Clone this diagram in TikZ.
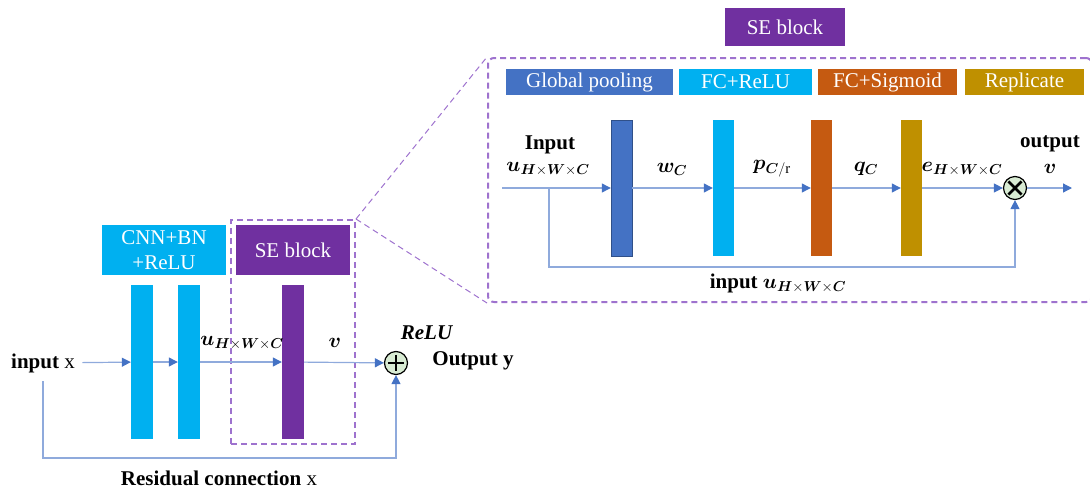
\documentclass[tikz,border=0pt]{standalone}
\usepackage{bm}
\usepackage{fontspec}
\setmainfont{Liberation Serif}
\usetikzlibrary{arrows.meta,positioning}
\definecolor{cyanbar}{HTML}{00B0F0}
\definecolor{sepurple}{HTML}{7030A0}
\definecolor{poolblue}{HTML}{4472C4}
\definecolor{sigorange}{HTML}{C55A11}
\definecolor{repgold}{HTML}{BF9000}
\definecolor{lnblue}{HTML}{8FAADC}
\definecolor{tipblue}{HTML}{4472C4}
\definecolor{dashpurple}{HTML}{9E72CE}
\definecolor{opgreen}{HTML}{D8EBD3}
\newcommand{\hwc}{\bm{H}\mathord{\times}\bm{W}\mathord{\times}\bm{C}}

\begin{document}
\begin{tikzpicture}[x=1pt, y=-1pt, font=\fontsize{21}{25}\selectfont,
  >={Triangle[length=9pt, width=9pt, color=tipblue]},
  ln/.style={draw=lnblue, line width=1.2pt},
  hd/.style={fill=#1, text=white, inner sep=0pt, align=center},
  bar/.style={fill=#1, inner sep=0pt},
  frame/.style={draw=dashpurple, line width=2pt, dash pattern=on 6pt off 4pt, inner sep=0pt},
  diag/.style={draw=dashpurple, line width=1pt, dash pattern=on 6pt off 4pt},
  op/.style={circle, draw=black, line width=1.2pt, fill=opgreen, minimum size=23pt, inner sep=0pt},
  sym/.style={line width=2.8pt}]
  \useasboundingbox (0,0) rectangle (1090,488);

  % residual block
  \node[hd=cyanbar, minimum width=124pt, minimum height=50pt] (cnnhd) at (164,250) {CNN+BN\\+ReLU};
  \node[hd=sepurple, minimum width=114pt, minimum height=50pt] (sehdl) at (293,250) {SE block};
  \node[bar=cyanbar, minimum width=22pt, minimum height=154pt] (cnn1) at (142,362) {};
  \node[bar=cyanbar, minimum width=22pt, minimum height=154pt] (cnn2) at (189,362) {};
  \node[bar=sepurple, minimum width=22pt, minimum height=154pt] (sel) at (293,362) {};
  \node[frame, minimum width=124pt, minimum height=224pt] (framel) at (293,332) {};
  \node[op] (plus) at (396,363) {};
  \draw[sym] ([yshift=-4pt]plus.north) -- ([yshift=4pt]plus.south);
  \draw[sym] ([xshift=4pt]plus.west) -- ([xshift=-4pt]plus.east);
  \node (inx) at (43,363) {\textbf{input} x};
  \node (resx) at (219,478) {\textbf{Residual connection} x};
  \node (relu) at (427,333) {\textbf{\textit{ReLU}}};
  \node (outy) at (473,361) {\textbf{Output y}};
  \node (ulab) at (242,343) {$\bm{u}_{\hwc}$};
  \node (vlab) at (335,343) {$\bm{v}$};
  \coordinate (rescorner) at (43,458);

  \draw[ln,->,shorten <=4pt] (inx) -- (cnn1);
  \foreach \a/\b in {cnn1/cnn2,cnn2/sel,sel/plus} \draw[ln,->] (\a) -- (\b);
  \draw[ln,->,shorten <=5pt] (inx.south) -- (rescorner) -| (plus);

  % SE block detail
  \node[hd=sepurple, minimum width=120pt, minimum height=38pt] (setitle) at (785,27) {SE block};
  \node[frame, rounded corners=6pt, minimum width=604pt, minimum height=244pt] (framer) at (790,180) {};
  \node[hd=poolblue, minimum width=167pt, minimum height=26pt] (gphd) at (589.5,82) {Global pooling};
  \node[hd=cyanbar, minimum width=133pt, minimum height=26pt] (fcrhd) at (745.5,82) {FC+ReLU};
  \node[hd=sigorange, minimum width=139pt, minimum height=26pt] (fcshd) at (887.5,82) {FC+Sigmoid};
  \node[hd=repgold, minimum width=119pt, minimum height=26pt] (rephd) at (1024.5,82) {Replicate};
  \node[bar=poolblue, draw=poolblue!70!black, minimum width=21pt, minimum height=136pt] (gpbar) at (621.5,188) {};
  \node[bar=cyanbar, minimum width=21pt, minimum height=136pt] (fcrbar) at (723.5,188) {};
  \node[bar=sigorange, minimum width=21pt, minimum height=136pt] (fcsbar) at (821.5,188) {};
  \node[bar=repgold, minimum width=21pt, minimum height=136pt] (repbar) at (911.5,188) {};
  \node[op] (times) at (1015,188) {};
  \draw[sym] ([shift={(-2pt,-2pt)}]times.45) -- ([shift={(2pt,2pt)}]times.225);
  \draw[sym] ([shift={(2pt,-2pt)}]times.135) -- ([shift={(-2pt,2pt)}]times.315);
  \node (inlab) at (550,145) {\textbf{Input}};
  \node (uinlab) at (548,169) {$\bm{u}_{\hwc}$};
  \node (wlab) at (672,169) {$\bm{w}_{\bm{C}}$};
  \node (plab) at (772,169) {$\bm{p}_{\bm{C}/\mathrm{r}}$};
  \node (qlab) at (866,169) {$\bm{q}_{\bm{C}}$};
  \node (elab) at (962,169) {$\bm{e}_{\hwc}$};
  \node (outlab) at (1050,144) {\textbf{output}};
  \node (voutlab) at (1050,169) {$\bm{v}$};
  \node (skiplab) at (778,283) {\textbf{input} $\bm{u}_{\hwc}$};
  \coordinate (uin) at (502,188);
  \coordinate (ubranch) at (549,188);
  \coordinate (skipc) at (549,267);
  \coordinate (vout) at (1072,188);

  \draw[ln,->] (uin) -- (gpbar);
  \foreach \a/\b in {gpbar/fcrbar,fcrbar/fcsbar,fcsbar/repbar,repbar/times,times/vout} \draw[ln,->] (\a) -- (\b);
  \draw[ln,->] (ubranch) -- (skipc) -| (times);

  \draw[diag] (framel.north east) -- (framer.north west);
  \draw[diag] (framel.north east) -- (framer.south west);
\end{tikzpicture}
\end{document}
